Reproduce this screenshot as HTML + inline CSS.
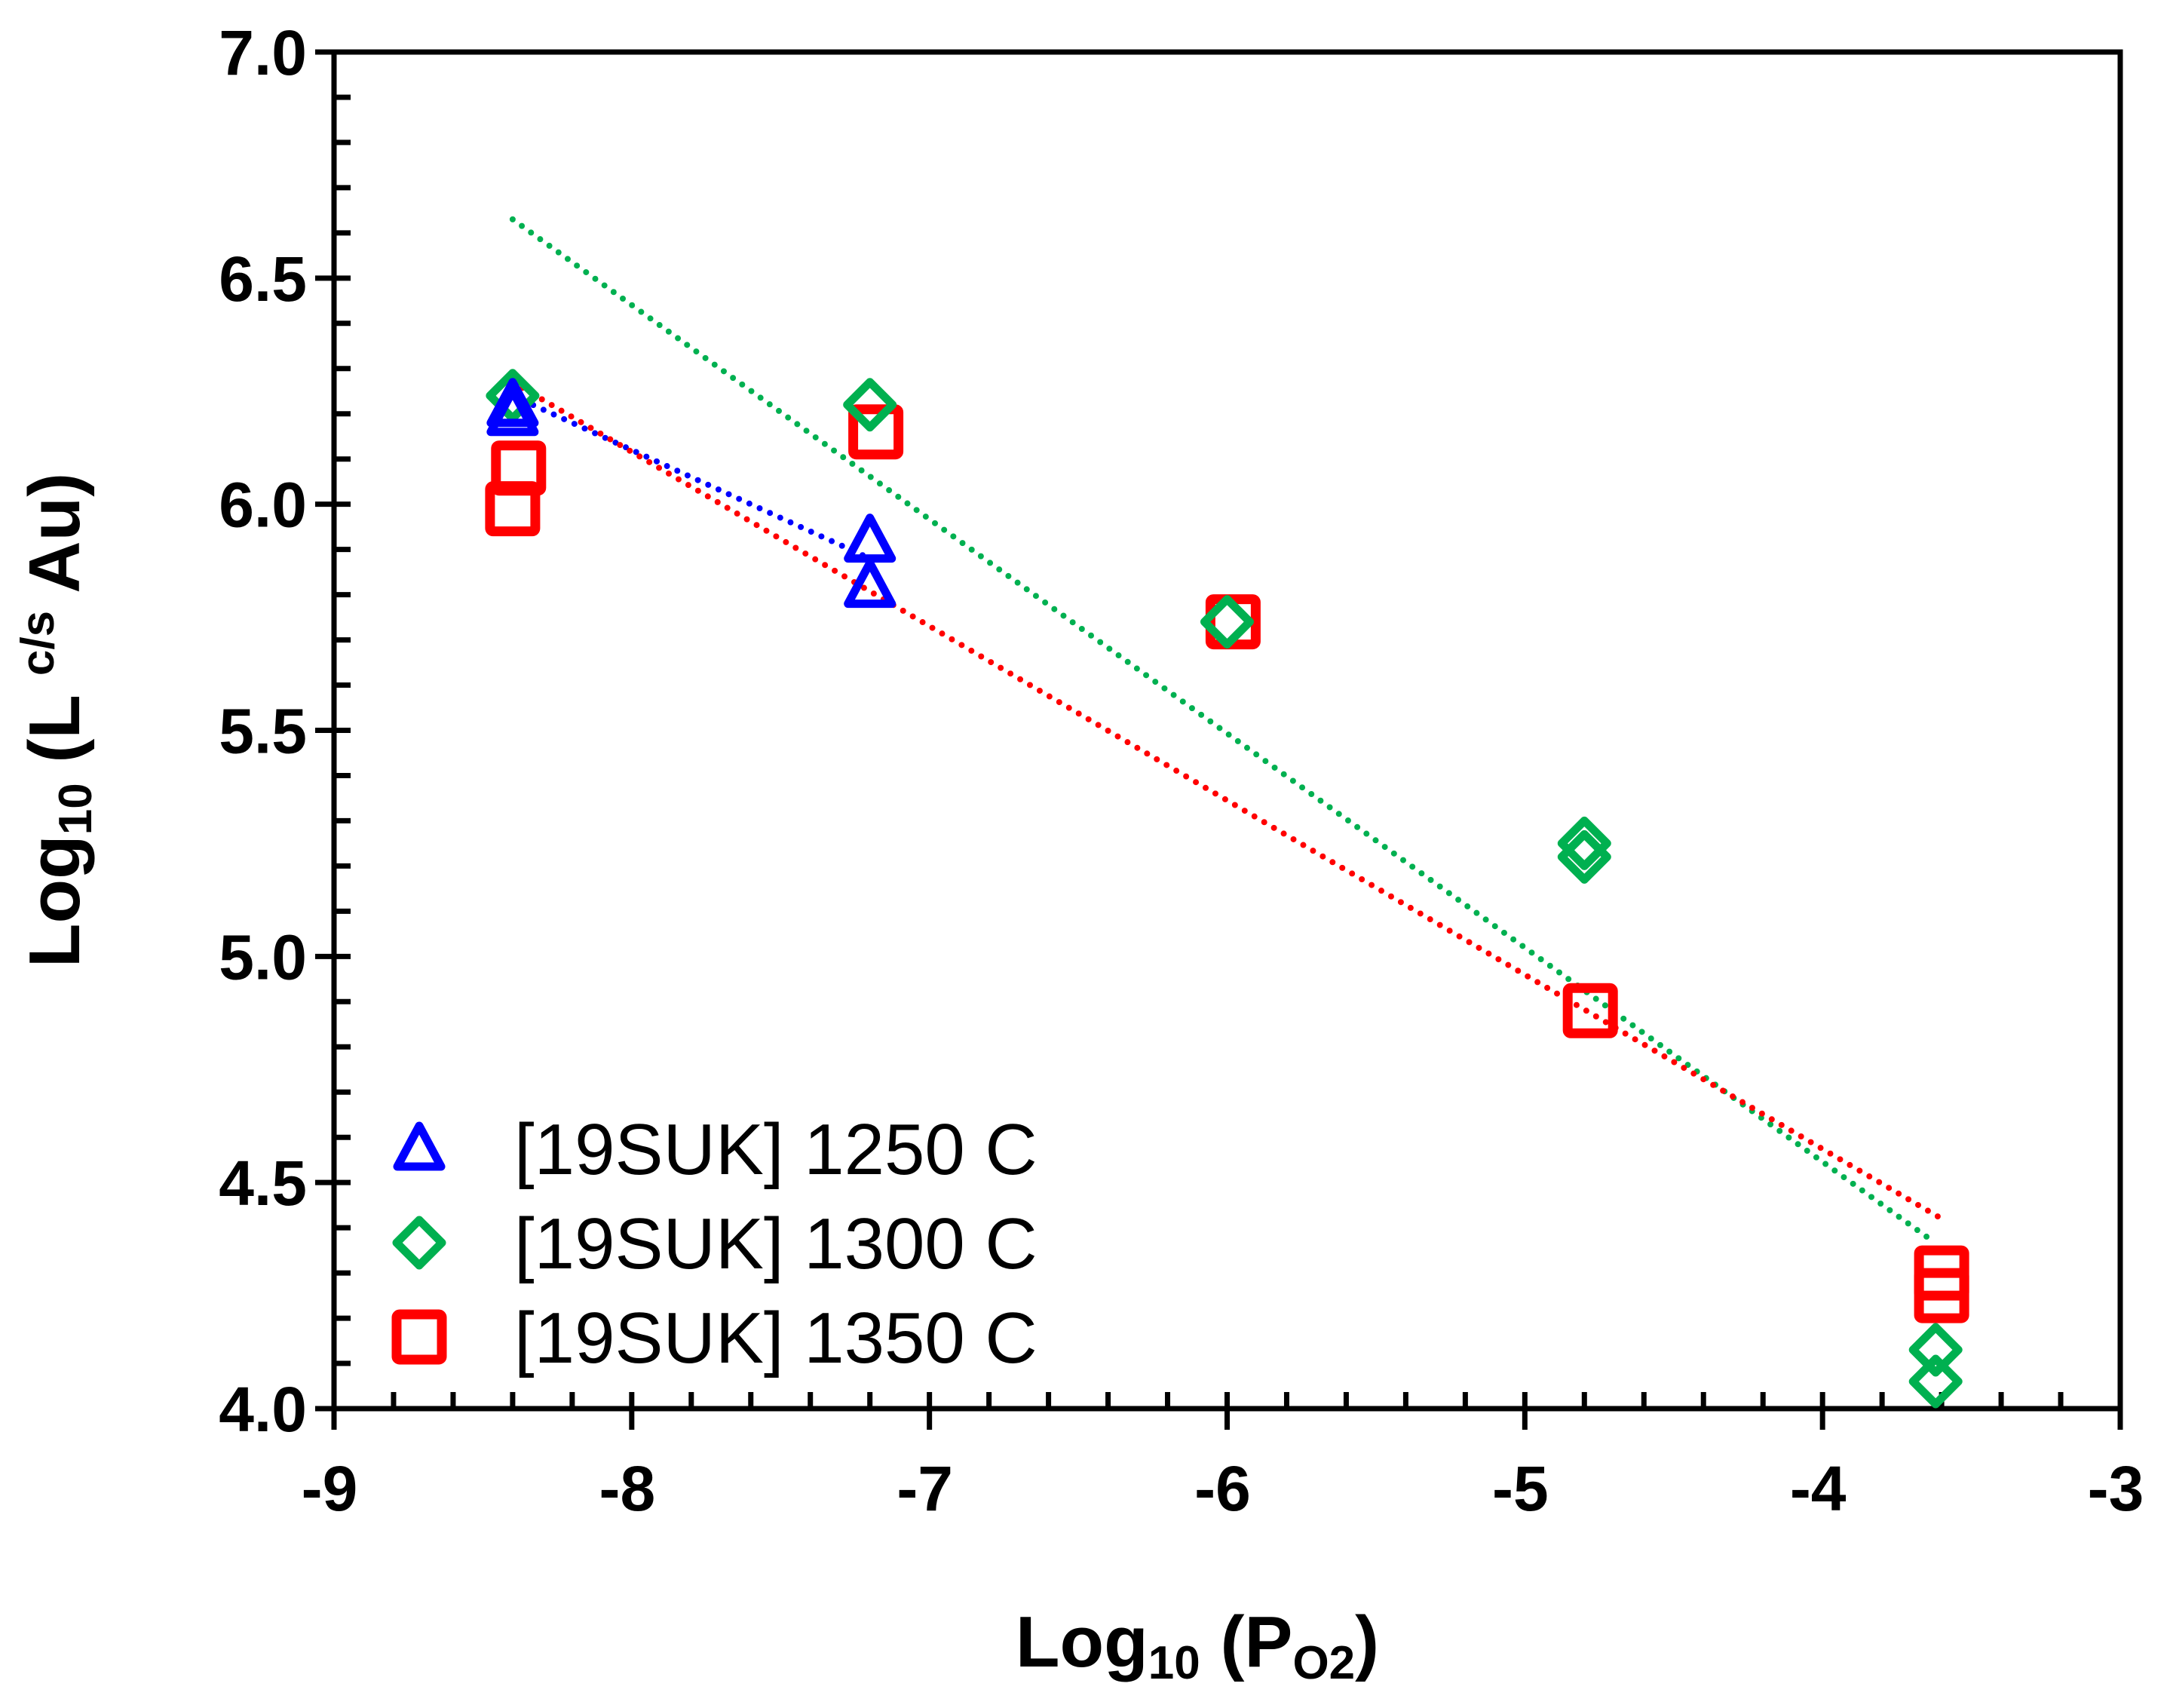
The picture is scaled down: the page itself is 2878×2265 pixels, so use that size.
<!DOCTYPE html>
<html><head><meta charset="utf-8"><style>
html,body{margin:0;padding:0;background:#fff;}
svg{display:block;font-family:"Liberation Sans",Arial,sans-serif;}
</style></head><body>
<svg id="chart" width="2878" height="2265" viewBox="0 0 2878 2265">
<g id="axes"></g>
<g id="lines"></g>
<g id="marks"></g>
<text x="1588" y="2210" text-anchor="middle" font-size="96" font-weight="bold">Log<tspan font-size="62" dy="16">10</tspan><tspan dy="-16"> (P</tspan><tspan font-size="62" dy="16">O2</tspan><tspan dy="-16">)</tspan></text>
<text transform="translate(105,955) rotate(-90)" text-anchor="middle" font-size="96" font-weight="bold">Log<tspan font-size="62" dy="16">10</tspan><tspan dy="-16"> (L </tspan><tspan font-size="62" dy="-34">c/s</tspan><tspan dy="34"> Au)</tspan></text>
<g id="legend"></g>
</svg>
<script>
const xTicks=[-9,-8,-7,-6,-5,-4,-3];
const yTicks=[4.0,4.5,5.0,5.5,6.0,6.5,7.0];
const s1250x=[-8.4,-8.4,-7.2,-7.2];
const s1250y=[6.22,6.20,5.92,5.82];
const s1300x=[-8.4,-7.2,-6.0,-4.8,-4.8,-3.62,-3.62];
const s1300y=[6.24,6.22,5.74,5.25,5.22,4.13,4.06];
const s1350x=[-8.38,-8.4,-7.18,-5.98,-4.78,-3.6,-3.6];
const s1350y=[6.08,5.99,6.16,5.74,4.88,4.30,4.25];
const fit1250=[[-8.4,6.24],[-7.2,5.88]];
const fit1300=[[-8.4,6.63],[-3.65,4.38]];
const fit1350=[[-8.4,6.27],[-3.6,4.42]];
const legendLabels=["[19SUK] 1250 C","[19SUK] 1300 C","[19SUK] 1350 C"];

const X0=443,X1=2812,Y0=1868,Y1=69;
const sx=v=>X0+(v+9)/6*(X1-X0);
const sy=v=>Y0-(v-4)/3*(Y0-Y1);
const NS="http://www.w3.org/2000/svg";
function mk(tag,parent,attrs){const e=document.createElementNS(NS,tag);for(const k in attrs)e.setAttribute(k,attrs[k]);parent.appendChild(e);return e;}
const axes=document.getElementById('axes');
const sw=7;
let e;
e=mk('rect',axes,{x:X0,y:Y1,width:X1-X0,height:Y0-Y1,fill:'none',stroke:'#000','stroke-width':sw});


for(let i=0;i<=30;i++){const v=4+i*0.1;const y=sy(v);const major=i%5===0;
 e=mk('line',axes,{x1:major?X0-25:X0,x2:X0+22,y1:y,y2:y,stroke:'#000','stroke-width':sw});
 
 }
for(let i=0;i<=30;i++){const v=-9+i*0.2;const x=sx(v);const major=i%5===0;
 e=mk('line',axes,{x1:x,x2:x,y1:major?Y0+28:Y0,y2:Y0-22,stroke:'#000','stroke-width':sw});
 
 }
yTicks.forEach(v=>{e=mk('text',axes,{x:X0-36,y:sy(v)+30,'text-anchor':'end','font-size':84,'font-weight':'bold'});e.textContent=v.toFixed(1);
 
 });
xTicks.forEach(v=>{e=mk('text',axes,{x:sx(v)-6,y:Y0+135,'text-anchor':'middle','font-size':84,'font-weight':'bold'});e.textContent=String(v);
 
 });
const lines=document.getElementById('lines');
[[fit1250,'#0000ff'],[fit1300,'#00b050'],[fit1350,'#ff0000']].forEach(([f,c])=>{
 e=mk('line',lines,{x1:sx(f[0][0]),y1:sy(f[0][1]),x2:sx(f[1][0]),y2:sy(f[1][1]),stroke:c,'stroke-width':8,'stroke-dasharray':'0 15','stroke-linecap':'round'});
 
 });
const marks=document.getElementById('marks');
function tri(p,x,y){return mk('path',p,{d:`M${x} ${y-30}L${x+29} ${y+24}L${x-29} ${y+24}Z`,fill:'none',stroke:'#0000ff','stroke-width':11,'stroke-linejoin':'round'});}
function dia(p,x,y){return mk('path',p,{d:`M${x} ${y-30}L${x+30} ${y}L${x} ${y+30}L${x-30} ${y}Z`,fill:'none',stroke:'#00b050','stroke-width':11,'stroke-linejoin':'round'});}
function sq(p,x,y){return mk('rect',p,{x:x-30,y:y-30,width:60,height:60,fill:'none',stroke:'#ff0000','stroke-width':13,rx:4});}
s1350x.forEach((v,i)=>{e=sq(marks,sx(v),sy(s1350y[i]));
 
 });
s1300x.forEach((v,i)=>{e=dia(marks,sx(v),sy(s1300y[i]));
 
 });
s1250x.forEach((v,i)=>{e=tri(marks,sx(v),sy(s1250y[i]));
 
 });
const leg=document.getElementById('legend');
const fns=[tri,dia,sq];
legendLabels.forEach((t,i)=>{const y=1523+i*125;
 e=fns[i](leg,556,y);
 
 
 e=mk('text',leg,{x:682,y:y+34,'font-size':96});e.textContent=t;
 
 });
</script>
</body></html>
